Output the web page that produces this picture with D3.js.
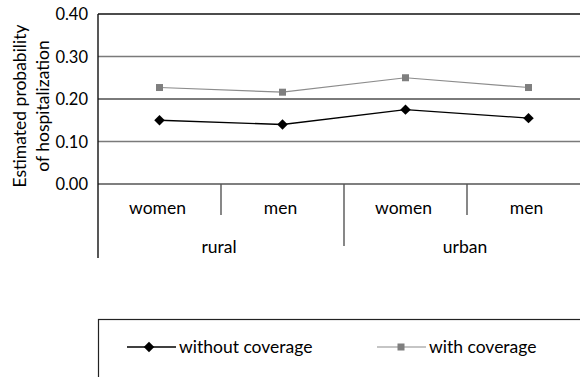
<!DOCTYPE html>
<html>
<head>
<meta charset="utf-8">
<script src="https://cdn.jsdelivr.net/npm/d3@7"></script>
<style>
  body { margin: 0; background: #fff; }
  text { font-family: Lato, "Open Sans", sans-serif; fill: #000; }
</style>
</head>
<body>
<div id="chart"></div>
<script>
// Data
const regions = ["rural", "urban"];
const sexes = ["women", "men"];
const withoutCoverage = [0.15, 0.14, 0.175, 0.155];
const withCoverage = [0.227, 0.216, 0.25, 0.227];
const yTicks = [0, 0.1, 0.2, 0.3, 0.4];
const seriesNames = ["without coverage", "with coverage"];

const W = 580, H = 377;
const plot = { left: 98, right: 590, top: 14, bottom: 184 };
const fs = "17.5px";

const svg = d3.select("#chart").append("svg")
  .attr("width", W)
  .attr("height", H);

// one cell per region/sex combination
const cells = [];
regions.forEach(r => sexes.forEach(s => cells.push(r + "|" + s)));

const x = d3.scaleBand().domain(cells).range([plot.left, plot.right]);
const y = d3.scaleLinear().domain([0, 0.4]).range([plot.bottom, plot.top]);

// gridlines
svg.append("g").selectAll("line")
  .data(yTicks)
  .join("line")
  .attr("x1", plot.left).attr("x2", plot.right)
  .attr("y1", d => y(d)).attr("y2", d => y(d))
  .attr("stroke", d => d === 0.4 ? "#111" : (d === 0 ? "#555" : "#7a7a7a"))
  .attr("stroke-width", d => d === 0.2 ? 2 : 1.4);

// y tick labels
svg.append("g").selectAll("text")
  .data(yTicks)
  .join("text")
  .attr("x", 88)
  .attr("y", d => y(d) + 6)
  .attr("text-anchor", "end")
  .style("font-size", "16.5px")
  .text(d => d3.format(".2f")(d));

// y axis line
svg.append("line")
  .attr("x1", plot.left).attr("x2", plot.left)
  .attr("y1", plot.top).attr("y2", 258)
  .attr("stroke", "#111").attr("stroke-width", 1.4);

// y axis title
const title = svg.append("text")
  .attr("transform", "translate(20,106) rotate(-90)")
  .attr("text-anchor", "middle")
  .style("font-size", fs);
title.append("tspan").attr("x", 0).attr("y", 6).text("Estimated probability");
title.append("tspan").attr("x", 0).attr("y", 29).text("of hospitalization");

// category separators
cells.slice(1).forEach(c => {
  const isGroup = c.endsWith("|" + sexes[0]);
  svg.append("line")
    .attr("x1", x(c)).attr("x2", x(c))
    .attr("y1", plot.bottom).attr("y2", isGroup ? 246 : 215)
    .attr("stroke", "#555").attr("stroke-width", 1.4);
});

// inner labels
svg.append("g").selectAll("text")
  .data(cells)
  .join("text")
  .attr("x", d => x(d) + x.bandwidth() / 2 - 2)
  .attr("y", 214)
  .attr("text-anchor", "middle")
  .style("font-size", fs)
  .text(d => d.split("|")[1]);

// outer labels
svg.append("g").selectAll("text")
  .data(regions)
  .join("text")
  .attr("x", r => x(r + "|" + sexes[0]) + x.bandwidth() - 2)
  .attr("y", 253)
  .attr("text-anchor", "middle")
  .style("font-size", fs)
  .text(d => d);

// series
const line = d3.line()
  .x((d, i) => x(cells[i]) + x.bandwidth() / 2)
  .y(d => y(d));

svg.append("path")
  .datum(withCoverage)
  .attr("d", line)
  .attr("fill", "none")
  .attr("stroke", "#8c8c8c")
  .attr("stroke-width", 1.2);

svg.append("g").selectAll("rect")
  .data(withCoverage)
  .join("rect")
  .attr("x", (d, i) => x(cells[i]) + x.bandwidth() / 2 - 3.5)
  .attr("y", d => y(d) - 3.5)
  .attr("width", 7).attr("height", 7)
  .attr("fill", "#7f7f7f");

svg.append("path")
  .datum(withoutCoverage)
  .attr("d", line)
  .attr("fill", "none")
  .attr("stroke", "#000")
  .attr("stroke-width", 1.3);

const diamond = d3.symbol().type(d3.symbolDiamond2).size(70);
svg.append("g").selectAll("path")
  .data(withoutCoverage)
  .join("path")
  .attr("transform", (d, i) => `translate(${x(cells[i]) + x.bandwidth() / 2},${y(d)})`)
  .attr("d", diamond)
  .attr("fill", "#000");

// legend
svg.append("rect")
  .attr("x", 98.5).attr("y", 319.5)
  .attr("width", 500).attr("height", 100)
  .attr("fill", "none")
  .attr("stroke", "#222").attr("stroke-width", 1.2);

const legendY = 347;
const legendX = [127, 377];
seriesNames.forEach((name, i) => {
  const g = svg.append("g").attr("transform", `translate(${legendX[i]},${legendY})`);
  g.append("line")
    .attr("x1", 0).attr("x2", 49).attr("y1", 0).attr("y2", 0)
    .attr("stroke", i === 0 ? "#000" : "#8c8c8c")
    .attr("stroke-width", i === 0 ? 1.3 : 1.2);
  if (i === 0) {
    g.append("path").attr("transform", "translate(22,0)").attr("d", diamond).attr("fill", "#000");
  } else {
    g.append("rect").attr("x", 20.5).attr("y", -3.5).attr("width", 7).attr("height", 7).attr("fill", "#7f7f7f");
  }
  g.append("text")
    .attr("x", 52).attr("y", 6)
    .style("font-size", fs)
    .text(name);
});
</script>
</body>
</html>
